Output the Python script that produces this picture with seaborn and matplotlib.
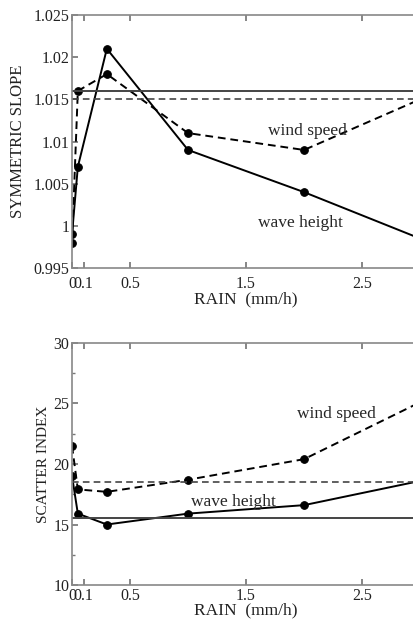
import matplotlib
matplotlib.use("Agg")
import matplotlib.pyplot as plt
import seaborn as sns
import pandas as pd
from matplotlib.ticker import MultipleLocator

# rain classes (mm/h)
rain = [0, 0.05, 0.3, 1, 2, 3]

# symmetric slope
slope_wave = [0.999, 1.007, 1.021, 1.009, 1.004, 0.9985]
slope_wind = [0.998, 1.016, 1.018, 1.011, 1.009, 1.015]
slope_ref_wave = 1.016
slope_ref_wind = 1.015
slope_ticks = [0.995, 1.0, 1.005, 1.01, 1.015, 1.02, 1.025]
slope_tick_labels = ["0.995", "1", "1.005", "1.01", "1.015", "1.02", "1.025"]

# scatter index
si_wave = [19.0, 15.9, 15.0, 15.9, 16.6, 18.6]
si_wind = [21.5, 17.9, 17.7, 18.7, 20.4, 25.1]
si_ref_wave = 15.5
si_ref_wind = 18.5
si_ticks = [10, 15, 20, 25, 30]

x_ticks = [0, 0.1, 0.5, 1.5, 2.5]
x_tick_labels = ["0", "0.1", "0.5", "1.5", "2.5"]

sns.set_theme(style="ticks")
plt.rcParams["font.family"] = ["Liberation Serif", "DejaVu Serif"]

fig = plt.figure(figsize=(4.14, 6.19), dpi=100)
ax1 = fig.add_axes([0.174, 0.567, 0.8406, 0.4087])
ax2 = fig.add_axes([0.174, 0.0549, 0.8406, 0.391])

df1 = pd.DataFrame({"rain": rain, "wave": slope_wave, "wind": slope_wind})
df2 = pd.DataFrame({"rain": rain, "wave": si_wave, "wind": si_wind})


def draw_panel(ax, df, ref_wave, ref_wind):
    sns.lineplot(data=df, x="rain", y="wave", ax=ax, color="black",
                 linewidth=1.4, marker="o", markersize=5.5,
                 markeredgecolor="black")
    sns.lineplot(data=df, x="rain", y="wind", ax=ax, color="black",
                 linewidth=1.4, linestyle=(0, (4, 2.5)), marker="o",
                 markersize=5.5, markeredgecolor="black")
    ax.axhline(ref_wave, color="#444444", linewidth=1.4)
    ax.axhline(ref_wind, color="#444444", linewidth=1.2, linestyle=(0, (4, 2.5)))
    ax.set_xlim(0, 3)
    ax.set_xticks(x_ticks)
    ax.set_xticklabels(x_tick_labels)
    ax.tick_params(direction="in", top=True, right=True, length=4,
                   labelsize=11.5, color="#777777", labelcolor="#222222", pad=2)
    ax.tick_params(which="minor", direction="in", right=True, length=2,
                   color="#777777")
    for s in ax.spines.values():
        s.set_color("#888888")
        s.set_linewidth(1.2)
    ax.set_xlabel("RAIN  (mm/h)", fontsize=12.5, labelpad=-1, color="#222222")


draw_panel(ax1, df1, slope_ref_wave, slope_ref_wind)
ax1.set_ylim(0.995, 1.025)
ax1.set_yticks(slope_ticks)
ax1.set_yticklabels(slope_tick_labels)
ax1.tick_params(axis="x", pad=6)
ax1.set_ylabel("SYMMETRIC SLOPE", fontsize=12, color="#222222", labelpad=5)
ax1.text(2.03, 1.0113, "wind speed", fontsize=12.5, ha="center", va="center")
ax1.text(1.97, 1.0003, "wave height", fontsize=12.5, ha="center", va="center")

draw_panel(ax2, df2, si_ref_wave, si_ref_wind)
ax2.set_ylim(10, 30)
ax2.set_yticks(si_ticks)
ax2.yaxis.set_minor_locator(MultipleLocator(2.5))
ax2.set_ylabel("SCATTER INDEX", fontsize=11, color="#222222", labelpad=2)
ax2.text(2.28, 24.1, "wind speed", fontsize=12.5, ha="center", va="center")
ax2.text(1.39, 16.9, "wave height", fontsize=12.5, ha="center", va="center")

fig.savefig("out.png", dpi=100)
